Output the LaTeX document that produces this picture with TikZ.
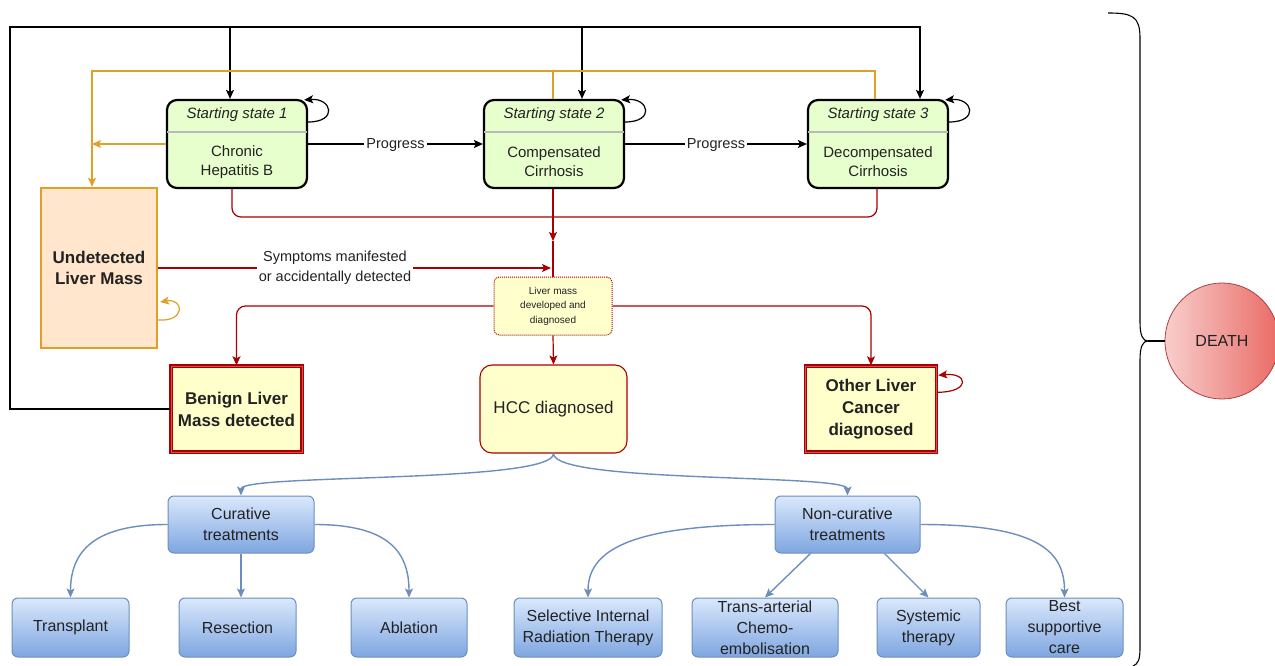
\documentclass[tikz,border=0pt]{standalone}
\usepackage{fontspec}
\setmainfont{Liberation Sans}
\usetikzlibrary{arrows.meta,shapes.geometric}
\definecolor{txt}{HTML}{222222}
\definecolor{ssfill}{HTML}{E6FFCC}
\definecolor{orng}{HTML}{DFA02A}
\definecolor{undfill}{HTML}{FFE6CC}
\definecolor{drd}{HTML}{A80000}
\definecolor{lrd}{HTML}{D85050}
\definecolor{yfill}{HTML}{FFFFCC}
\definecolor{bstroke}{HTML}{6C8EBF}
\definecolor{btop}{HTML}{DAE8FC}
\definecolor{bbot}{HTML}{7EA6E0}
\definecolor{dleft}{HTML}{F8CECC}
\definecolor{dright}{HTML}{EA6B66}
\begin{document}
\begin{tikzpicture}[x=1pt,y=-1pt,
  font=\color{txt},
  tip/.style={-{Stealth[length=9pt,width=8pt,inset=2pt]}},
  blk/.style={draw=black,line width=1.3pt},
  org/.style={draw=orng,line width=1.3pt},
  rd/.style={draw=drd,line width=1.2pt},
  bl/.style={draw=bstroke,line width=1.4pt},
  ssbox/.style={draw=black,line width=2.2pt,fill=ssfill,rounded corners=10pt,minimum width=140,minimum height=88},
  redsq/.style={draw=drd,double=lrd,double distance=0.8pt,line width=1.4pt,fill=yfill,minimum width=131,minimum height=86,align=center,font=\fontsize{17}{22}\selectfont\bfseries\color{txt}},
  bluebox/.style={draw=bstroke,line width=1pt,rounded corners=6pt,top color=btop,bottom color=bbot,align=center,font=\fontsize{16}{21}\selectfont\color{txt}},
  smalllbl/.style={font=\fontsize{14.5}{20}\selectfont\color{txt},fill=white,inner sep=2pt,align=center}
]
\useasboundingbox (0,0) rectangle (1275,666);

% ---------- starting states ----------
\foreach \n/\cx/\num/\body in {ss1/237/1/{Chronic\\Hepatitis B},ss2/554/2/{Compensated\\Cirrhosis},ss3/878/3/{Decompensated\\Cirrhosis}}{
  \node[ssbox] (\n) at (\cx,144) {};
  \draw[gray!55,line width=1.6pt] ([yshift=-33pt,xshift=1pt]\n.north west) -- ([yshift=-33pt,xshift=-1pt]\n.north east);
  \node[font=\fontsize{15}{19}\selectfont\itshape\color{txt}] (\n t) at (\cx,115) {Starting state \num};
  \node[font=\fontsize{15}{19}\selectfont\color{txt},align=center] (\n b) at (\cx,162) {\body};
}

% ---------- other nodes ----------
\node[draw=orng,line width=2.4pt,fill=undfill,minimum width=116,minimum height=160,align=center,
      font=\fontsize{17}{21}\selectfont\bfseries\color{txt}] (und) at (99,268) {Undetected\\Liver Mass};
\node[draw=drd,densely dotted,line width=1pt,fill=yfill,rounded corners=5pt,minimum width=118,minimum height=58,
      align=center,font=\fontsize{10}{14.5}\selectfont\color{txt}] (lm) at (553,306) {Liver mass\\developed and\\diagnosed};
\node[redsq] (benign) at (236.5,409) {Benign Liver\\Mass detected};
\node[draw=drd,line width=1.1pt,fill=yfill,rounded corners=12pt,minimum width=147,minimum height=88,
      font=\fontsize{17}{21}\selectfont\color{txt}] (hcc) at (553.5,409) {HCC diagnosed};
\node[redsq] (other) at (871,409) {Other Liver\\Cancer\\diagnosed};
\node[ellipse,draw=lrd!80!black,line width=0.8pt,left color=dleft,right color=dright,minimum width=114,minimum height=116,
      font=\fontsize{16}{20}\selectfont\color{txt}] (death) at (1222,341) {DEATH};

\node[bluebox,minimum width=146,minimum height=57] (cur) at (241,524.5) {Curative\\treatments};
\node[bluebox,minimum width=145,minimum height=57] (nc) at (847.5,524.5) {Non-curative\\treatments};
\node[bluebox,minimum width=117,minimum height=59] (trans) at (70.5,627.5) {Transplant};
\node[bluebox,minimum width=117,minimum height=59] (res) at (237.5,627.5) {Resection};
\node[bluebox,minimum width=116,minimum height=59] (abl) at (409,627.5) {Ablation};
\node[bluebox,minimum width=148,minimum height=59] (sirt) at (588,627.5) {Selective Internal\\Radiation Therapy};
\node[bluebox,minimum width=146,minimum height=59,inner sep=0pt] (tace) at (765,627.5) {Trans-arterial\\Chemo-\\embolisation};
\node[bluebox,minimum width=103,minimum height=59] (sys) at (928.5,627.5) {Systemic\\therapy};
\node[bluebox,minimum width=117,minimum height=59,inner sep=0pt] (bsc) at (1064.5,627.5) {Best\\supportive\\care};

% ---------- black loop ----------
\coordinate (bl0) at (10,409);
\coordinate (tl0) at (10,27);
\coordinate (t1) at (230,27);
\coordinate (t2) at (582,27);
\coordinate (t3) at (920,27);
\draw[blk,tip] (benign.west) -- (bl0) -- (tl0) -- (t3) -- (ss3.north -| t3);
\draw[blk,tip] (t1) -- (ss1.north -| t1);
\draw[blk,tip] (t2) -- (ss2.north -| t2);

% self loops
\foreach \n in {ss1,ss2,ss3}{
  \draw[blk,line width=1.2pt,tip] ([yshift=22pt]\n.east) .. controls +(30,0) and +(28,-2) .. ([xshift=-4pt,yshift=-1pt]\n.north east);
}

% progress
\draw[blk,tip] (ss1.east) -- node[fill=white,inner sep=2pt,yshift=-1.5pt,font=\fontsize{14.5}{18}\selectfont\color{txt}] (p1) {Progress} (ss2.west);
\draw[blk,tip] (ss2.east) -- node[fill=white,inner sep=2pt,yshift=-1.5pt,font=\fontsize{14.5}{18}\selectfont\color{txt}] (p2) {Progress} (ss3.west);

% ---------- orange ----------
\coordinate (o1) at (92,71);
\coordinate (o2) at (553,71);
\coordinate (o3) at (875,71);
\draw[org,tip] (ss3.north -| o3) -- (o3) -- (o1) -- (und.north -| o1);
\draw[org] (ss2.north -| o2) -- (o2);
\draw[org,tip] (ss1.west) -- (ss1.west -| o1);
\draw[org,line width=1.2pt,tip] (158,320) .. controls (186,322) and (184,298) .. (160,302);

% ---------- red ----------
\coordinate (c1) at (232,217);
\coordinate (c3) at (877,217);
\coordinate (j) at (553,217);
\coordinate (ja) at (553,241);
\coordinate (sx) at (551,268);
\draw[rd,rounded corners=9pt] (ss1.south -| c1) -- (c1) -- (j);
\draw[rd,rounded corners=9pt] (ss3.south -| c3) -- (c3) -- (j);
\draw[rd,tip] (ss2.south -| j) -- (ja);
\draw[rd] (ja) -- (lm.north);
\draw[rd,tip] (und.east |- sx) -- node[smalllbl,pos=0.45] (symp) {Symptoms manifested\\or accidentally detected} (sx);
\draw[rd,tip,rounded corners=9pt] (lm.west) -- (lm.west -| benign.north) -- (benign.north);
\draw[rd,tip,rounded corners=9pt] (lm.east) -- (lm.east -| other.north) -- (other.north);
\draw[rd,tip] (lm.south) -- (hcc.north);
\draw[rd,line width=1.2pt,tip] ([yshift=-27pt]other.north east) .. controls +(34,0) and +(30,-3) .. ([xshift=1pt,yshift=-10pt]other.north east);

% ---------- blue ----------
\draw[bl,tip] (hcc.south) .. controls +(0,30) and +(0,-22) .. (cur.north);
\draw[bl,tip] (hcc.south) .. controls +(0,30) and +(0,-22) .. (nc.north);
\draw[bl,tip] (cur.west) .. controls +(-75,0) and +(0,-45) .. (trans.north);
\draw[bl,tip] (cur.south) -- (cur.south |- res.north);
\draw[bl,tip] (cur.east) .. controls +(75,0) and +(0,-45) .. (abl.north);
\draw[bl,tip] (nc.west) .. controls +(-150,0) and +(0,-45) .. (sirt.north);
\draw[bl,tip] ([xshift=-37pt]nc.south) -- (tace.north);
\draw[bl,tip] ([xshift=37pt]nc.south) -- (sys.north);
\draw[bl,tip] (nc.east) .. controls +(120,0) and +(0,-45) .. (bsc.north);

% ---------- brace ----------
\coordinate (btip) at (1148,341);
\draw[black,line width=1.1pt] (1108,13) .. controls (1132,13) and (1140,16) .. (1140,38) -- (1140,322)
   .. controls (1140,336) and (1143,341) .. (btip)
   .. controls (1143,341) and (1140,346) .. (1140,360) -- (1140,648)
   .. controls (1140,660) and (1138,664) .. (1133,666);
\draw[black,line width=1.1pt] (btip) -- (death.west);
\end{tikzpicture}
\end{document}
